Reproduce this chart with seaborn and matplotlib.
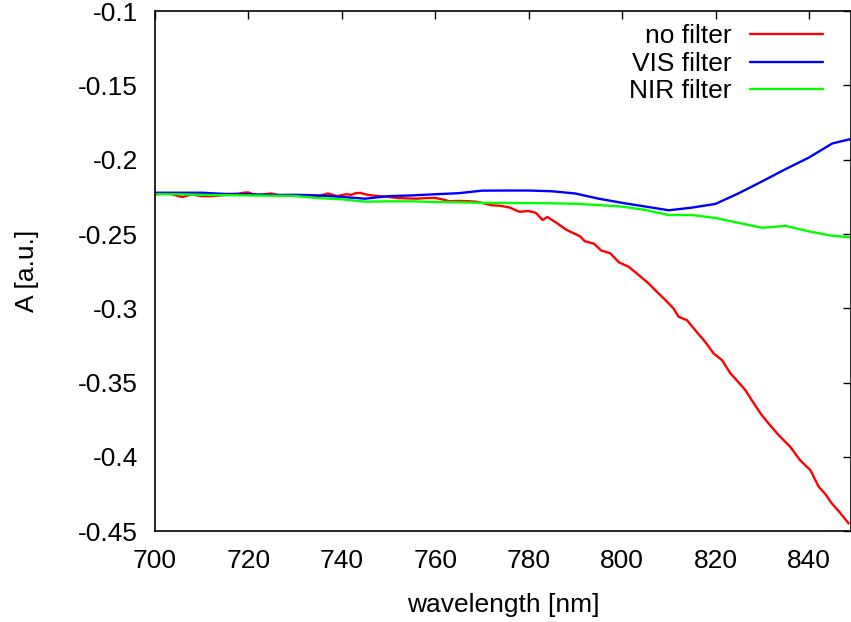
import numpy as np
import pandas as pd
import matplotlib
matplotlib.use("Agg")
import matplotlib.pyplot as plt
import seaborn as sns

# no filter (fine sampled, noisy)
red_wl = [700, 701, 702, 703, 704, 705, 706, 707, 708, 709, 710, 712, 714, 716, 718, 719,
          720, 721, 722, 724, 725, 726, 727, 729, 731, 733, 735, 736, 737, 738, 739, 740,
          741, 742, 743, 744, 745, 746, 748, 750, 752, 754, 756, 758, 760, 762, 763, 765,
          767, 769, 770, 772, 774, 776, 778, 780, 781.5, 783, 784, 786, 788, 790, 791, 792,
          794, 795.5, 797.5, 799.3, 801.4, 803.6, 805.7, 807.5, 809.3, 811, 812.1, 813.9,
          816, 817.8, 819.6, 821.4, 823.2, 825, 826.4, 828, 829.9, 831.5, 833.5, 836,
          838.1, 840.3, 842.1, 843.5, 844.9, 846.5, 848.5]
red_a = [-0.2234, -0.2230, -0.2227, -0.2227, -0.2235, -0.2245, -0.2250, -0.2240, -0.2232,
         -0.2240, -0.2245, -0.2245, -0.2240, -0.2232, -0.2228, -0.2222, -0.2220, -0.2232,
         -0.2238, -0.2230, -0.2227, -0.2235, -0.2242, -0.2240, -0.2238, -0.2240, -0.2245,
         -0.2236, -0.2227, -0.2235, -0.2245, -0.2238, -0.2232, -0.2236, -0.2225, -0.2223,
         -0.2232, -0.2238, -0.2245, -0.2250, -0.2258, -0.2260, -0.2262, -0.2258, -0.2257,
         -0.2270, -0.2279, -0.2277, -0.2279, -0.2283, -0.2290, -0.2306, -0.2310, -0.2322,
         -0.2350, -0.2345, -0.2357, -0.2405, -0.2385, -0.2425, -0.2470, -0.2500, -0.2515,
         -0.2548, -0.2565, -0.2610, -0.2630, -0.2690, -0.2720, -0.2777, -0.2833, -0.2890,
         -0.2945, -0.3000, -0.3057, -0.3080, -0.3160, -0.3226, -0.3304, -0.3349, -0.3438,
         -0.3500, -0.3551, -0.3630, -0.3719, -0.3780, -0.3853, -0.3932, -0.4022, -0.4089,
         -0.4201, -0.4250, -0.4313, -0.4370, -0.4448]

# VIS / NIR filter (5 nm steps)
filt_wl = [700, 705, 710, 715, 720, 725, 730, 735, 740, 745, 750, 755, 760, 765, 770, 775,
           780, 785, 790, 795, 800, 805, 810, 815, 820, 825, 830, 835, 840, 845, 849]
vis_a = [-0.2222, -0.2222, -0.2222, -0.2230, -0.2232, -0.2237, -0.2236, -0.2240, -0.2250,
         -0.2262, -0.2245, -0.2240, -0.2232, -0.2225, -0.2208, -0.2207, -0.2207, -0.2212,
         -0.2227, -0.2262, -0.2290, -0.2315, -0.2340, -0.2322, -0.2297, -0.2225, -0.2145,
         -0.2063, -0.1985, -0.1890, -0.1860]
nir_a = [-0.2232, -0.2232, -0.2236, -0.2238, -0.2240, -0.2242, -0.2244, -0.2258, -0.2266,
         -0.2282, -0.2280, -0.2280, -0.2284, -0.2286, -0.2290, -0.2291, -0.2292, -0.2293,
         -0.2296, -0.2305, -0.2315, -0.2338, -0.2372, -0.2372, -0.2392, -0.2425, -0.2458,
         -0.2445, -0.2482, -0.2512, -0.2522]

series = ['no filter', 'VIS filter', 'NIR filter']
colors = ['#ff0000', '#0000ff', '#00ff00']

df = pd.concat([
    pd.DataFrame({'wavelength': red_wl, 'A': red_a, 'filter': series[0]}),
    pd.DataFrame({'wavelength': filt_wl, 'A': vis_a, 'filter': series[1]}),
    pd.DataFrame({'wavelength': filt_wl, 'A': nir_a, 'filter': series[2]}),
], ignore_index=True)

sns.set_theme(style="white")
plt.rcParams['font.family'] = ['Liberation Sans', 'DejaVu Sans']
plt.rcParams.update({
    'font.size': 19,
    'text.color': 'black',
    'axes.labelcolor': 'black',
    'xtick.color': 'black',
    'ytick.color': 'black',
})

fig = plt.figure(figsize=(8.51, 6.22), dpi=100)
ax = fig.add_axes([0.182, 0.146, 0.818, 0.836])

sns.lineplot(data=df, x='wavelength', y='A', hue='filter', hue_order=series,
             palette=dict(zip(series, colors)), estimator=None, sort=False,
             linewidth=1.7, legend=False, ax=ax)

ax.set_xlim(700, 849)
ax.set_ylim(-0.45, -0.1)
ax.set_xticks(np.arange(700, 841, 20))
yt = np.round(np.arange(-0.45, -0.099, 0.05), 2)
ax.set_yticks(yt)
ax.set_yticklabels([f"{v:g}" for v in yt])
ax.set_xlabel('wavelength [nm]', fontsize=19, labelpad=14)
ax.set_ylabel('A [a.u.]', fontsize=19, labelpad=28)

ax.tick_params(direction='in', length=6, width=1, top=True, right=True,
               labelsize=19, pad=13)
ax.tick_params(axis='y', pad=12)
for sp in ax.spines.values():
    sp.set_visible(True)
    sp.set_color('black')
    sp.set_linewidth(1.2)
ax.grid(False)

ax.legend(ax.lines[:3], series, loc='upper right', bbox_to_anchor=(0.971, 0.99),
          frameon=False, markerfirst=False, fontsize=19, labelspacing=0.13,
          handlelength=2.77, handletextpad=0.7, borderpad=0.3, borderaxespad=0)

fig.savefig('out.png', dpi=100)
